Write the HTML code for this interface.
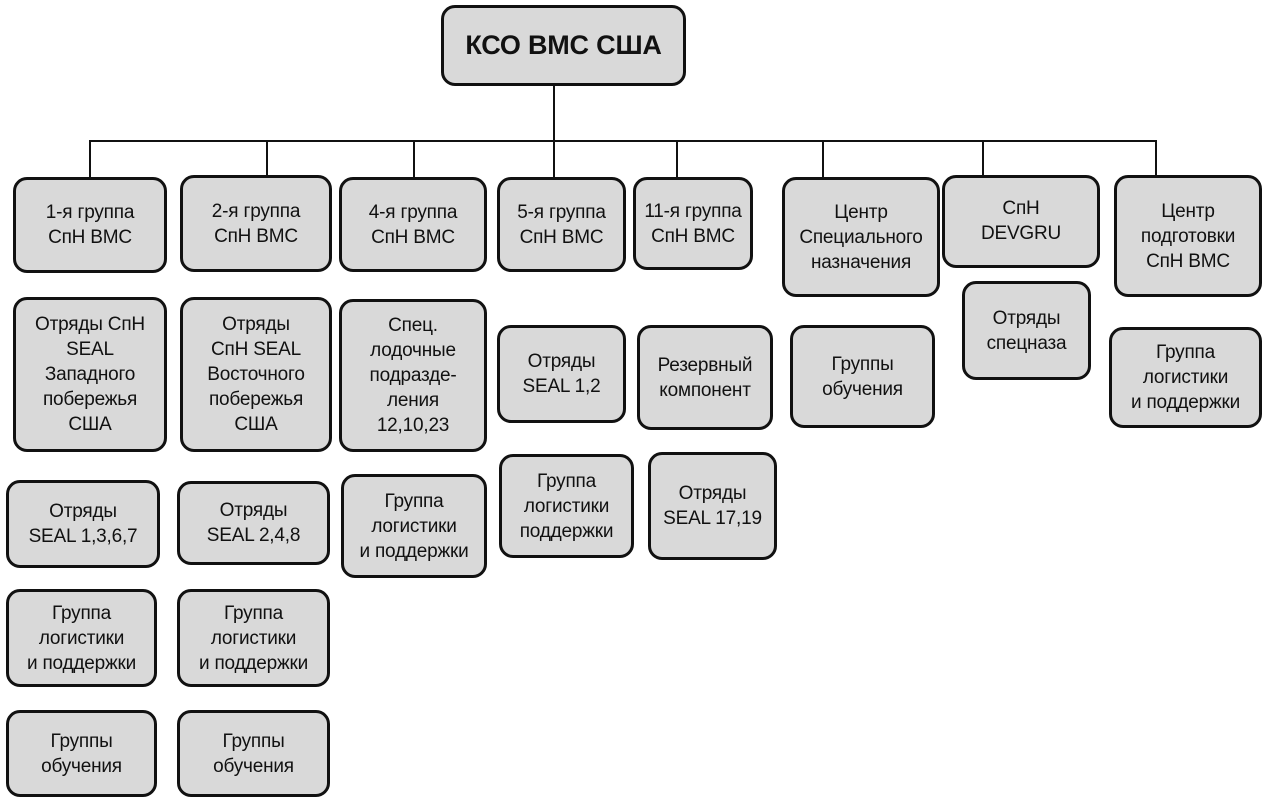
<!DOCTYPE html>
<html><head><meta charset="utf-8"><style>
body{margin:0;width:1264px;height:802px;background:#fff;position:relative;overflow:hidden;font-family:"Liberation Sans",sans-serif;}
.b{position:absolute;box-sizing:border-box;border:3px solid #111;border-radius:14px;background:#d9d9d9;display:flex;align-items:center;justify-content:center;text-align:center;font-size:19px;line-height:25px;color:#111;letter-spacing:-0.2px}
.l{position:absolute;background:#111;}
</style></head><body>
<div class="l" style="left:553px;top:86px;width:1.5px;height:54px"></div>
<div class="l" style="left:89px;top:140px;width:1067px;height:1.5px"></div>
<div class="l" style="left:89px;top:140px;width:1.5px;height:37px"></div>
<div class="l" style="left:266px;top:140px;width:1.5px;height:35px"></div>
<div class="l" style="left:413px;top:140px;width:1.5px;height:37px"></div>
<div class="l" style="left:553px;top:140px;width:1.5px;height:37px"></div>
<div class="l" style="left:676px;top:140px;width:1.5px;height:37px"></div>
<div class="l" style="left:822px;top:140px;width:1.5px;height:37px"></div>
<div class="l" style="left:982px;top:140px;width:1.5px;height:35px"></div>
<div class="l" style="left:1155px;top:140px;width:1.5px;height:35px"></div>

<div class="b" style="left:441px;top:5px;width:245px;height:81px;font-size:27px;font-weight:bold">КСО ВМС США</div>

<div class="b" style="left:13px;top:177px;width:154px;height:96px">1-я группа<br>СпН ВМС</div>
<div class="b" style="left:180px;top:175px;width:152px;height:97px">2-я группа<br>СпН ВМС</div>
<div class="b" style="left:339px;top:177px;width:148px;height:95px">4-я группа<br>СпН ВМС</div>
<div class="b" style="left:497px;top:177px;width:129px;height:95px">5-я группа<br>СпН ВМС</div>
<div class="b" style="left:633px;top:177px;width:120px;height:93px">11-я группа<br>СпН ВМС</div>
<div class="b" style="left:782px;top:177px;width:158px;height:120px">Центр<br>Специального<br>назначения</div>
<div class="b" style="left:942px;top:175px;width:158px;height:93px;align-items:flex-start;padding-top:18px">СпН<br>DEVGRU</div>
<div class="b" style="left:1114px;top:175px;width:148px;height:122px">Центр<br>подготовки<br>СпН ВМС</div>

<div class="b" style="left:13px;top:297px;width:154px;height:155px">Отряды СпН<br>SEAL<br>Западного<br>побережья<br>США</div>
<div class="b" style="left:180px;top:297px;width:152px;height:155px">Отряды<br>СпН SEAL<br>Восточного<br>побережья<br>США</div>
<div class="b" style="left:339px;top:299px;width:148px;height:153px">Спец.<br>лодочные<br>подразде-<br>ления<br>12,10,23</div>
<div class="b" style="left:497px;top:325px;width:129px;height:98px">Отряды<br>SEAL 1,2</div>
<div class="b" style="left:637px;top:325px;width:136px;height:105px">Резервный<br>компонент</div>
<div class="b" style="left:790px;top:325px;width:145px;height:103px">Группы<br>обучения</div>
<div class="b" style="left:962px;top:281px;width:129px;height:99px">Отряды<br>спецназа</div>
<div class="b" style="left:1109px;top:327px;width:153px;height:101px">Группа<br>логистики<br>и поддержки</div>

<div class="b" style="left:6px;top:480px;width:154px;height:88px">Отряды<br>SEAL 1,3,6,7</div>
<div class="b" style="left:177px;top:481px;width:153px;height:84px">Отряды<br>SEAL 2,4,8</div>
<div class="b" style="left:341px;top:474px;width:146px;height:104px">Группа<br>логистики<br>и поддержки</div>
<div class="b" style="left:499px;top:454px;width:135px;height:104px">Группа<br>логистики<br>поддержки</div>
<div class="b" style="left:648px;top:452px;width:129px;height:108px">Отряды<br>SEAL 17,19</div>

<div class="b" style="left:6px;top:589px;width:151px;height:98px">Группа<br>логистики<br>и поддержки</div>
<div class="b" style="left:177px;top:589px;width:153px;height:98px">Группа<br>логистики<br>и поддержки</div>
<div class="b" style="left:6px;top:710px;width:151px;height:87px">Группы<br>обучения</div>
<div class="b" style="left:177px;top:710px;width:153px;height:87px">Группы<br>обучения</div>
</body></html>
